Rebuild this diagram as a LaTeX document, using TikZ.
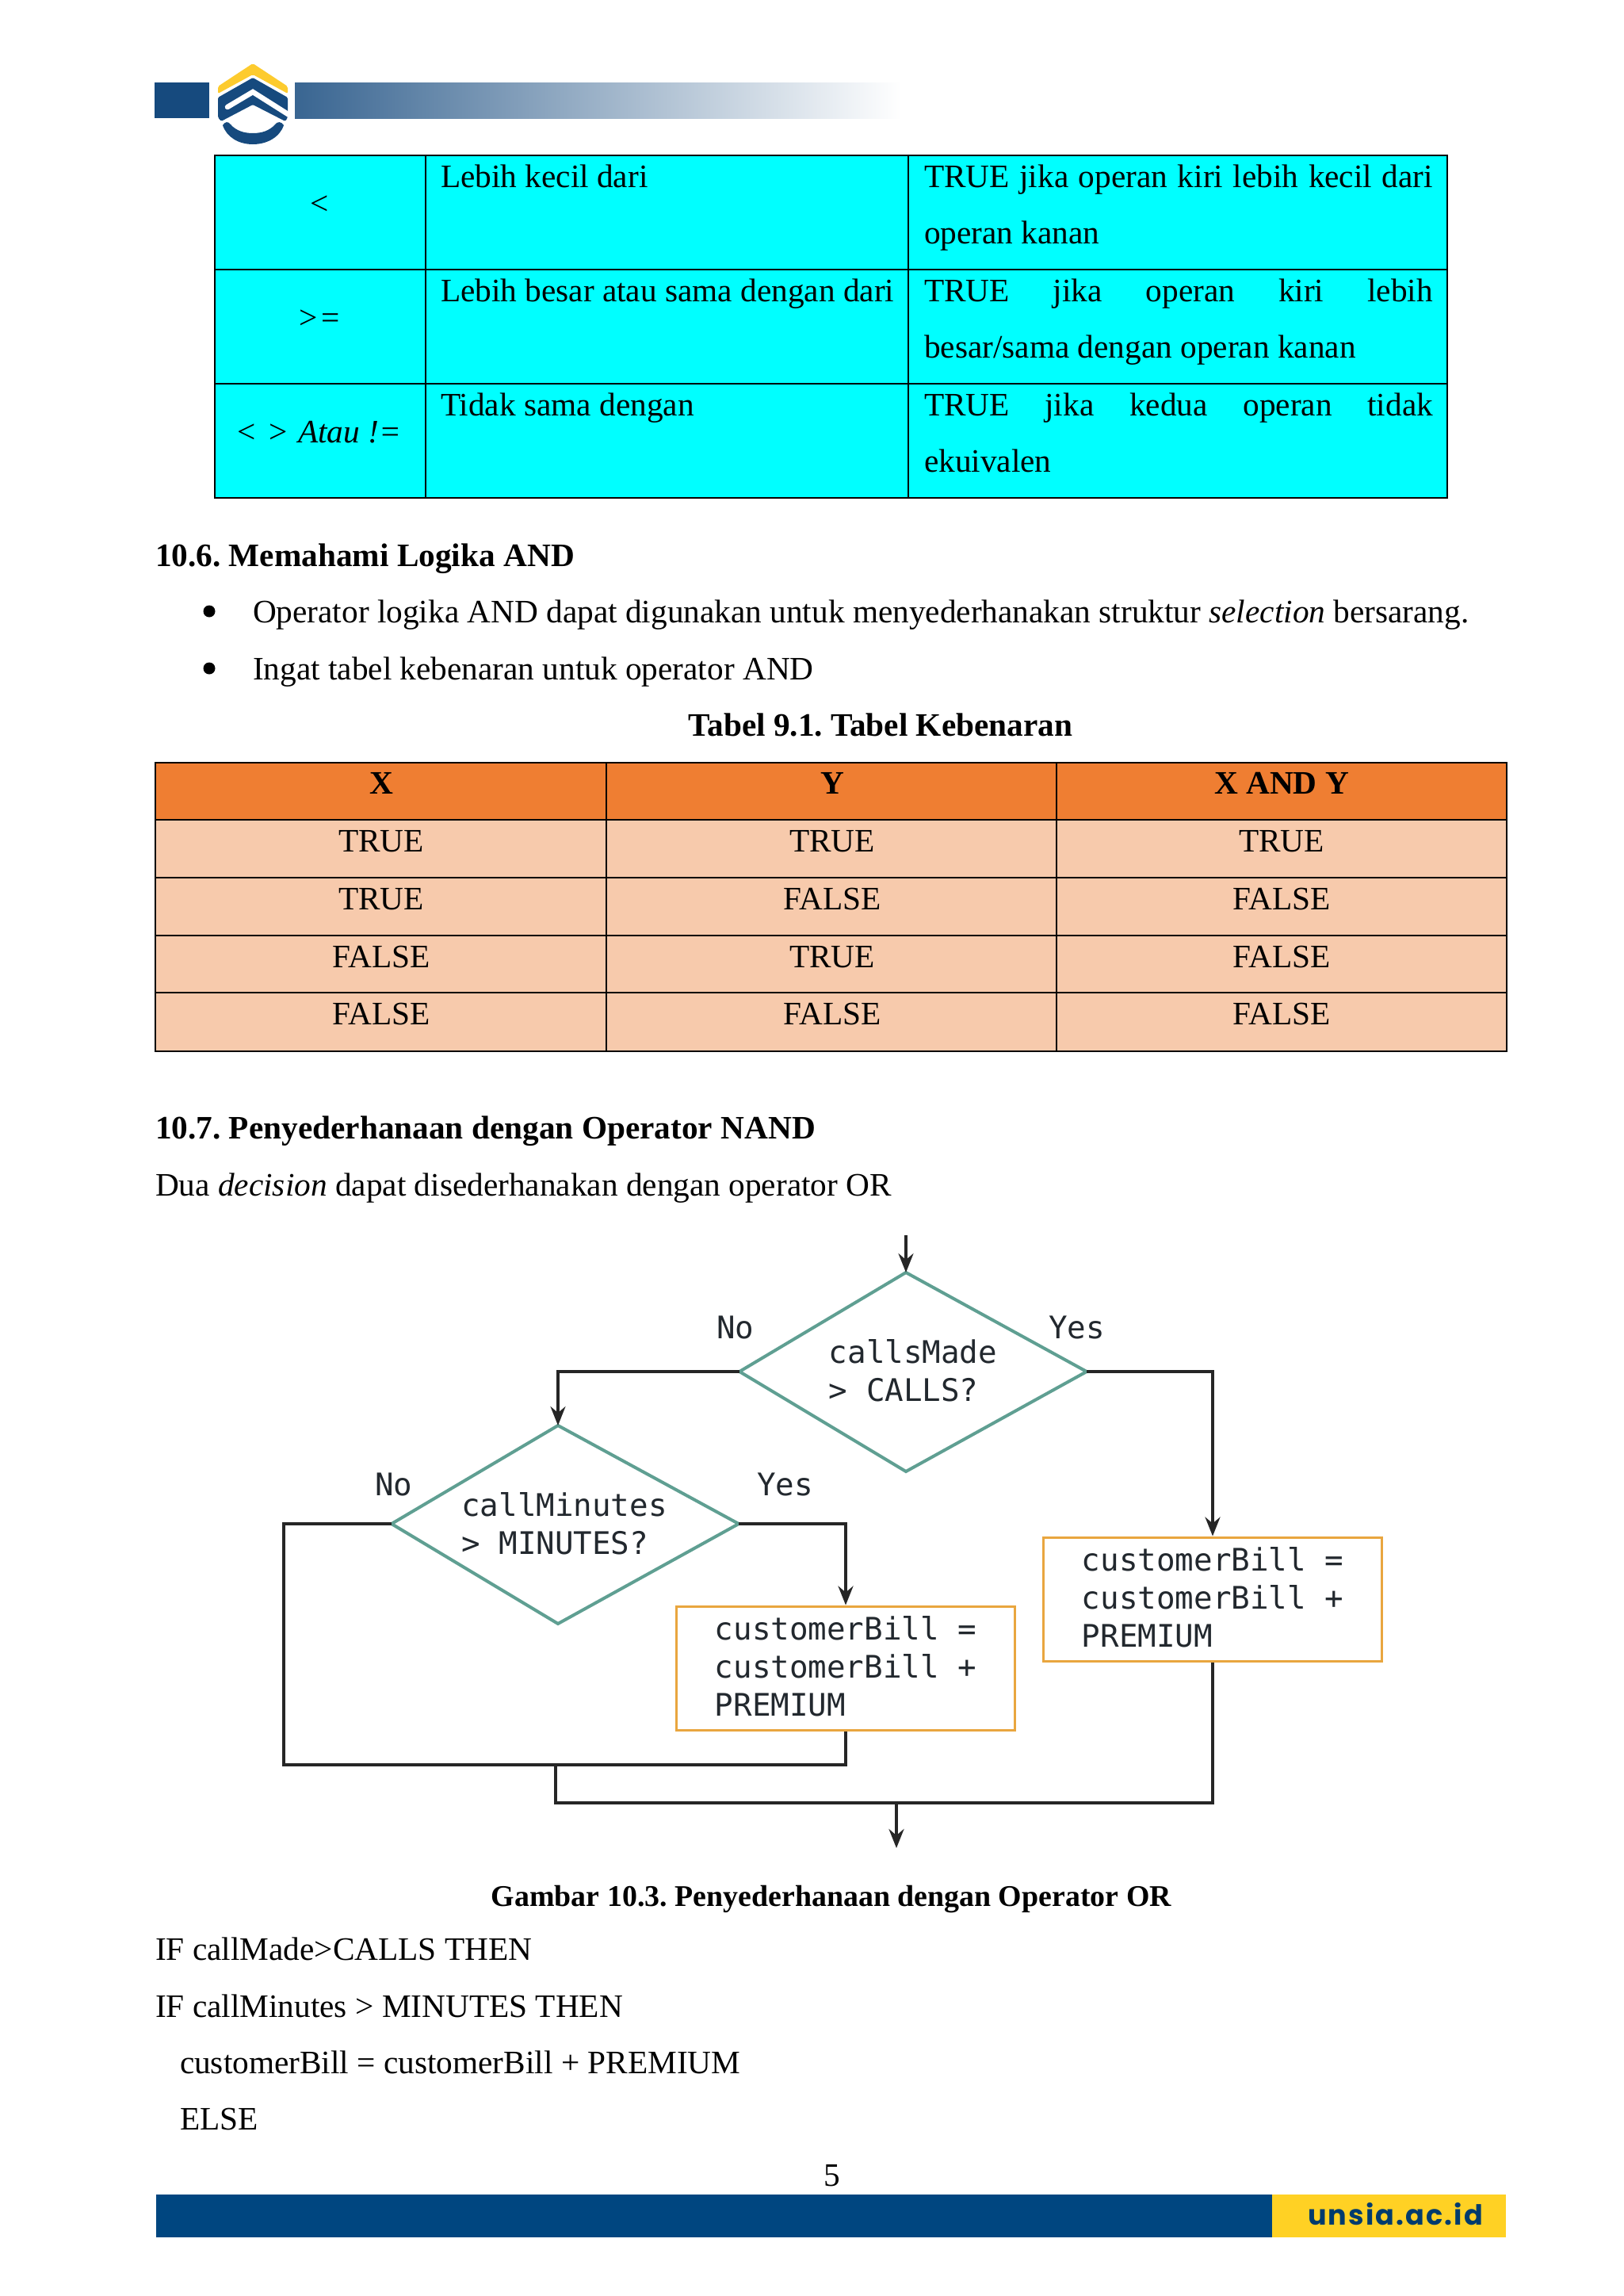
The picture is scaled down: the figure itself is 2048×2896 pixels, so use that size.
\documentclass[tikz,border=0pt]{standalone}
\usepackage{fontspec}
\setmainfont{Liberation Serif}
\newfontfamily\dmono{DejaVu Sans Mono}
\newfontfamily\webfont[LetterSpace=6]{Poppins}
\usetikzlibrary{arrows.meta}
\definecolor{logoblue}{HTML}{164A7E}
\definecolor{logoyellow}{HTML}{FDCB2E}
\definecolor{barblue}{HTML}{004680}
\definecolor{baryellow}{HTML}{FFD124}
\definecolor{tealline}{HTML}{5F9F92}
\definecolor{orangeline}{HTML}{E9A63F}
\definecolor{headorange}{HTML}{EF7E32}
\definecolor{roworange}{HTML}{F7CAAC}
\definecolor{monotext}{HTML}{22282E}
\definecolor{tablecyan}{HTML}{00FFFF}
\tikzset{
  txt/.style={anchor=base west,inner sep=0pt,outer sep=0pt,font=\fontsize{41.3}{50}\selectfont\frenchspacing},
  ctr/.style={txt,anchor=base},
  flowlabel/.style={anchor=base west,inner sep=0pt,text=monotext,font=\dmono\fontsize{39.2}{48}\selectfont},
  decidetext/.style={inner sep=0pt,text=monotext,font=\dmono\fontsize{39.2}{48}\selectfont},
  decideedge/.style={draw=tealline,line width=4pt,line join=miter},
  action/.style={rectangle,draw=orangeline,line width=3pt,inner sep=0pt,minimum width=427pt,minimum height=156pt,text=monotext,font=\dmono\fontsize{39.2}{48}\selectfont},
  conn/.style={draw=black!85,line width=3.3pt},
  flowarrow/.style={conn,-{Stealth[length=24pt,width=19pt,inset=8pt]}},
  celline/.style={draw=black,line width=2pt},
  blackdot/.style={circle,fill=black,inner sep=0pt,minimum size=15pt}
}
\begin{document}
\begin{tikzpicture}[x=1pt,y=-1pt]
\useasboundingbox (0,0) rectangle (2048,2896);
\fill[white] (0,0) rectangle (2048,2896);
% header band
\fill[logoblue] (195,104) rectangle (264,149);
\shade[left color=logoblue!85!white,right color=white] (372,104) rectangle (1137,149);
% logo
\fill[logoyellow,rounded corners=2pt] (319,80) -- (363,109) -- (363,118) -- (319,94) -- (275,118) -- (275,109) -- cycle;
\fill[logoblue,rounded corners=1.5pt] (319,98) -- (363,123) -- (363,148) -- (360,153) -- (319,132) -- (279,153) -- (275,148) -- (275,123) -- cycle;
\draw[white,line width=6.5pt,line cap=round] (287,135) -- (319,116) -- (368,147);
\fill[logoblue] (281,158) .. controls (284,153) and (288,153) .. (291,157) .. controls (298,165) and (308,168) .. (319,168) .. controls (330,168) and (340,165) .. (347,157) .. controls (350,153) and (355,153) .. (358,158) .. controls (353,173) and (337,182) .. (319,182) .. controls (301,182) and (286,173) .. (281,158) -- cycle;
% first table
\fill[tablecyan] (271,196) rectangle (1826,628);
\draw[celline,line width=2.4pt] (271,196) rectangle (1826,628);
\draw[celline] (271,340) -- (1826,340) (271,484) -- (1826,484) (537,196) -- (537,628) (1146,196) -- (1146,628);
\node[ctr] (a1) at (403,270) {<};
\node[ctr] (a2) at (403,414) {>\kern5pt=};
\node[ctr] (a3) at (403,558) {<\kern3pt{} \kern3pt>\kern3pt{} \textit{Atau !=}};
\node[txt] (b1t) at (556,236) {Lebih kecil dari};
\node[txt] (b2t) at (556,380) {Lebih besar atau sama dengan dari};
\node[txt] (b3t) at (556,524) {Tidak sama dengan};
\node[txt] (c1a) at (1166,236) {\makebox[642pt][s]{TRUE jika operan kiri lebih kecil dari}};
\node[txt] (c1b) at (1166,307) {operan kanan};
\node[txt] (c2a) at (1166,380) {\makebox[642pt][s]{TRUE jika operan kiri lebih}};
\node[txt] (c2b) at (1166,451) {besar/sama dengan operan kanan};
\node[txt] (c3a) at (1166,524) {\makebox[642pt][s]{TRUE jika kedua operan tidak}};
\node[txt] (c3b) at (1166,595) {ekuivalen};
% section 10.6
\node[txt] (h1) at (196,714) {\textbf{10.6. Memahami Logika AND}};
\node[blackdot] (bul1) at (264,771) {};
\node[txt] (p1) at (319,785) {Operator logika AND dapat digunakan untuk menyederhanakan struktur \textit{selection} bersarang.};
\node[blackdot] (bul2) at (264,843) {};
\node[txt] (p2) at (319,857) {Ingat tabel kebenaran untuk operator AND};
\node[ctr] (cap1) at (1111,928) {\textbf{Tabel 9.1. Tabel Kebenaran}};
% second table
\fill[headorange] (196,962) rectangle (1901,1034);
\fill[roworange] (196,1034) rectangle (1901,1326);
\draw[celline] (196,962) rectangle (1901,1326);
\draw[celline] (196,1034) -- (1901,1034) (196,1107) -- (1901,1107) (196,1180) -- (1901,1180) (196,1252) -- (1901,1252) (765,962) -- (765,1326) (1333,962) -- (1333,1326);
\node[ctr] (x0) at (481,1001) {\textbf{X}};
\node[ctr] (y0) at (1050,1001) {\textbf{Y}};
\node[ctr] (z0) at (1617,1001) {\textbf{X AND Y}};
\node[ctr] (x1) at (481,1074) {TRUE};
\node[ctr] (y1) at (1050,1074) {TRUE};
\node[ctr] (z1) at (1617,1074) {TRUE};
\node[ctr] (x2) at (481,1147) {TRUE};
\node[ctr] (y2) at (1050,1147) {FALSE};
\node[ctr] (z2) at (1617,1147) {FALSE};
\node[ctr] (x3) at (481,1220) {FALSE};
\node[ctr] (y3) at (1050,1220) {TRUE};
\node[ctr] (z3) at (1617,1220) {FALSE};
\node[ctr] (x4) at (481,1292) {FALSE};
\node[ctr] (y4) at (1050,1292) {FALSE};
\node[ctr] (z4) at (1617,1292) {FALSE};
% section 10.7
\node[txt] (h2) at (196,1436) {\textbf{10.7. Penyederhanaan dengan Operator NAND}};
\node[txt] (p3) at (196,1508) {Dua \textit{decision} dapat disederhanakan dengan operator OR};
% flowchart
\coordinate (d1n) at (1143,1605);
\coordinate (d1e) at (1371,1730);
\coordinate (d1s) at (1143,1856);
\coordinate (d1w) at (933,1730);
\coordinate (d2n) at (704,1798);
\coordinate (d2e) at (932,1922);
\coordinate (d2s) at (704,2048);
\coordinate (d2w) at (494,1922);
\draw[decideedge] (d1n) -- (d1e) -- (d1s) -- (d1w) -- cycle;
\draw[decideedge] (d2n) -- (d2e) -- (d2s) -- (d2w) -- cycle;
\node[decidetext] (d1) at (1142,1734) {\hspace*{20pt}\begin{tabular}{@{}l@{}}callsMade\\> CALLS?\end{tabular}};
\node[decidetext] (d2) at (703,1927) {\hspace*{18pt}\begin{tabular}{@{}l@{}}callMinutes\\> MINUTES?\end{tabular}};
\node[action] (b1) at (1530,2017) {\begin{tabular}{@{}l@{}}\rule{0pt}{38.6pt}customerBill =\\customerBill +\\PREMIUM\end{tabular}};
\node[action] (b2) at (1067,2104) {\begin{tabular}{@{}l@{}}\rule{0pt}{39.6pt}customerBill =\\customerBill +\\PREMIUM\end{tabular}};
\node[flowlabel] (n1) at (904,1688) {No};
\node[flowlabel] (y1l) at (1323,1688) {Yes};
\node[flowlabel] (n2) at (473,1886) {No};
\node[flowlabel] (y2l) at (955,1886) {Yes};
\coordinate (s) at (1143,1558);
\coordinate (j1) at (358,2226);
\coordinate (m1) at (701,2226);
\coordinate (m2) at (701,2274);
\coordinate (m3) at (1131,2274);
\coordinate (e) at (1131,2331);
\draw[flowarrow] (s) -- (d1n);
\draw[flowarrow] (d1e) -| (b1.north);
\draw[flowarrow] (d1w) -| (d2n);
\draw[flowarrow] (d2e) -| (b2.north);
\draw[conn] (d2w) -| (j1) -- (j1 -| b2.south) -- (b2.south);
\draw[conn] (m1) -- (m2) -- (m2 -| b1.south) -- (b1.south);
\draw[flowarrow] (m3) -- (e);
% lower text
\node[ctr,font=\fontsize{37.9}{46}\selectfont\frenchspacing] (cap2) at (1049,2404) {\textbf{Gambar 10.3. Penyederhanaan dengan Operator OR}};
\node[txt] (l1) at (196,2472) {IF callMade>CALLS THEN};
\node[txt] (l2) at (196,2544) {IF callMinutes > MINUTES THEN};
\node[txt] (l3) at (227,2615) {customerBill = customerBill + PREMIUM};
\node[txt] (l4) at (227,2686) {ELSE};
\node[ctr] (pg) at (1050,2757) {5};
% footer band
\fill[barblue] (197,2768) rectangle (1605,2822);
\fill[baryellow] (1605,2768) rectangle (1900,2822);
\node[anchor=base west,inner sep=0pt,text=barblue!85!black,font=\webfont\bfseries\fontsize{35}{40}\selectfont] (web) at (1650,2806) {unsia.ac.id};
\end{tikzpicture}
\end{document}
